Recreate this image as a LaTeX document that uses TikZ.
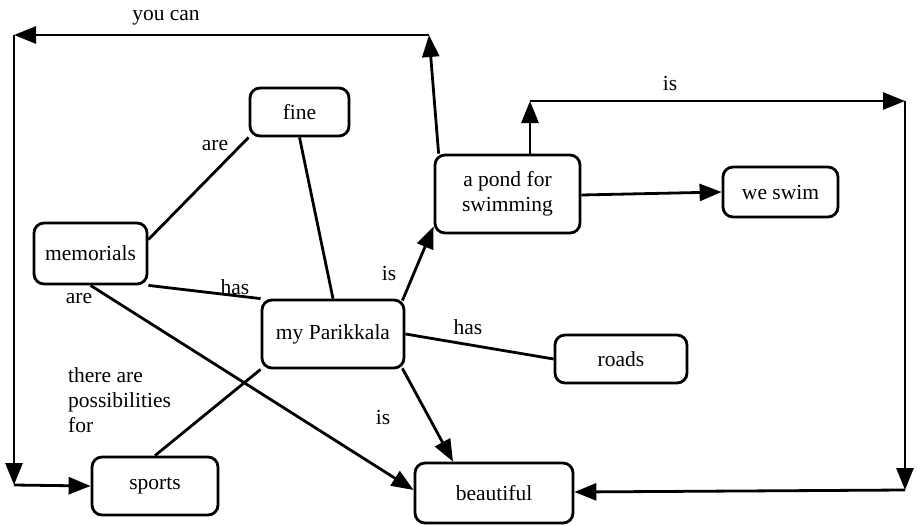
\documentclass[tikz,border=0pt]{standalone}
\usepackage{fontspec}
\setmainfont{Liberation Serif}
\usetikzlibrary{arrows.meta,calc}
\tikzset{
  concept/.style={draw, line width=2.8pt, rounded corners=10pt, inner sep=0pt,
    font=\fontsize{21.5}{25}\selectfont, align=center},
  link/.style={line width=2.8pt},
  arr/.style={link, -{Triangle[length=22pt,width=17pt]}},
  lbl/.style={font=\fontsize{21.5}{25}\selectfont, inner sep=0pt}
}
\begin{document}
\begin{tikzpicture}[x=1pt,y=-1pt]
\useasboundingbox (0,0) rectangle (918,525);

% concepts
\node[concept, minimum width=99pt,  minimum height=48pt] (fine) at (299.5,112) {fine};
\node[concept, minimum width=113pt, minimum height=61pt] (mem)  at (90.5,253.5) {memorials};
\node[concept, minimum width=142pt, minimum height=68pt] (par)  at (333,334) {my Parikkala};
\node[concept, minimum width=145pt, minimum height=78pt] (pond) at (507.5,194) {a pond for\\swimming};
\node[concept, minimum width=115pt, minimum height=50pt] (swim) at (780.5,192) {we swim};
\node[concept, minimum width=132pt, minimum height=48pt] (roads) at (621,359) {roads};
\node[concept, minimum width=126pt, minimum height=58pt] (sports) at (155,486) {sports};
\node[concept, minimum width=158pt, minimum height=60pt] (beau) at (494,493) {beautiful};

% bend points of the long connectors
\coordinate (tl1) at (429,35);
\coordinate (tl2) at (14,35);
\coordinate (tl3) at (14,485);
\coordinate (tr1) at (530,101);
\coordinate (tr2) at (905,101);
\coordinate (tr3) at (905,490);

% pond -> you can -> sports
\draw[arr] ($(pond.north west)+(5,0)$) -- (tl1);
\draw[arr] (tl1) -- (tl2);
\draw[arr] (tl2) -- (tl3);
\draw[arr] (tl3) -- (sports.west);

% pond -> is -> beautiful
\draw[arr] ($(pond.north)+(22.5,0)$) -- (tr1);
\draw[arr] (tr1) -- (tr2);
\draw[arr] (tr2) -- (tr3);
\draw[arr] (tr3) -- ($(beau.east)+(0,-1)$);

% remaining links
\draw[arr] ($(pond.east)+(0,1)$) -- (swim.west);
\draw[arr] ($(par.north east)+(-3,2)$) -- ($(pond.south west)+(0,-8)$);
\draw[arr] ($(par.south east)+(-3,-1)$) -- ($(beau.north)+(-41,0)$);
\draw[link] (par.east) -- (roads.west);
\draw[link] (par.north) -- (fine.south);
\draw[link] (fine.south west) -- ($(mem.east)+(0,-14)$);
\draw[link] (mem.south east) -- (par.north west);
\draw[arr] (mem.south) -- ($(beau.west)+(0,-3)$);
\draw[link] (sports.north) -- (par.south west);

% link labels
\node[lbl] (l1) at (166,18) {you can};
\node[lbl] (l2) at (670,83) {is};
\node[lbl] (l3) at (215,146) {are};
\node[lbl] (l4) at (79,299) {are};
\node[lbl] (l5) at (235,287) {has};
\node[lbl] (l6) at (389,273) {is};
\node[lbl] (l7) at (468,327) {has};
\node[lbl] (l8) at (383,417) {is};
\node[lbl, align=left, anchor=north west] (l9) at (68,367) {there are\\possibilities\\for};
\end{tikzpicture}
\end{document}
